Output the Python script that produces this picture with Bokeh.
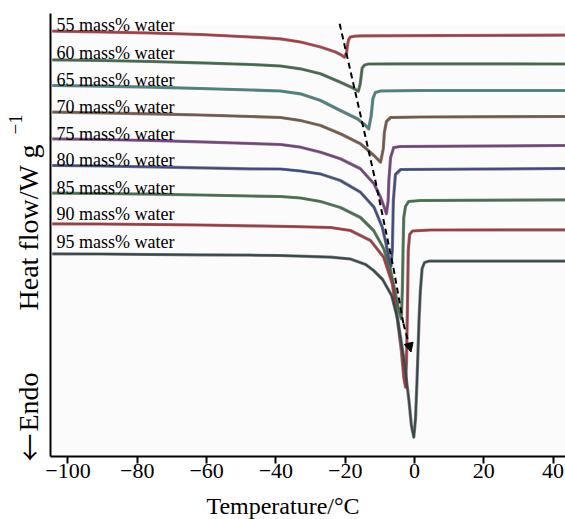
from bokeh.plotting import figure
from bokeh.models import Range1d, FixedTicker, Label, Arrow, NormalHead, ColumnDataSource, BoxAnnotation
from bokeh.core.properties import value
from bokeh.embed import file_html
from bokeh.resources import INLINE

FONT = "Liberation Serif"

# ---- data (temperature in degC, heat flow in arbitrary offset units) ----
series_names = ["55 mass% water", "60 mass% water", "65 mass% water", "70 mass% water",
                "75 mass% water", "80 mass% water", "85 mass% water", "90 mass% water",
                "95 mass% water"]
series_colors = ["#b8343c", "#3b6b47", "#3f8784", "#7a5540", "#7a3d85",
                 "#3b4a85", "#3e7348", "#b0333a", "#34474a"]

t55 = [-104.5, -90.6, -76.2, -61.8, -47.3, -38.7, -32.9, -27.1, -22.8, -21.1, -20.2, -19.6, -19.3, -19.0, -18.5, -17.0, -15.6, 10.4, 43.6]
h55 = [425.3, 424.5, 423.5, 422.0, 419.5, 417.7, 414.5, 409.5, 404.5, 401.5, 399.3, 404.0, 412.0, 417.0, 419.5, 420.3, 420.7, 421.0, 421.3]

t60 = [-104.5, -90.6, -76.2, -61.8, -47.3, -38.7, -32.9, -27.1, -21.4, -17.9, -16.2, -15.7, -15.4, -15.1, -14.4, -13.3, -4.0, 43.6]
h60 = [396.7, 396.0, 395.0, 393.7, 392.0, 390.5, 387.7, 382.7, 374.3, 368.7, 365.3, 372.0, 380.0, 388.5, 391.5, 392.5, 392.7, 392.5]

t65 = [-104.5, -90.6, -76.2, -61.8, -47.3, -38.7, -32.9, -27.1, -21.4, -16.5, -14.1, -13.2, -12.5, -12.0, -11.3, -9.8, 1.7, 43.6]
h65 = [371.0, 370.3, 369.3, 368.0, 366.5, 365.5, 362.7, 356.0, 346.0, 337.7, 331.0, 327.7, 341.0, 358.0, 364.0, 365.5, 366.0, 366.0]

t70 = [-104.5, -90.6, -76.2, -61.8, -47.3, -38.7, -32.9, -27.1, -21.4, -15.6, -11.7, -9.8, -9.0, -8.7, -8.1, -6.9, 1.7, 43.6]
h70 = [344.3, 343.7, 342.7, 341.5, 340.0, 339.0, 336.0, 331.0, 322.7, 312.7, 301.0, 294.3, 308.0, 324.0, 335.0, 339.0, 339.5, 340.0]

t75 = [-104.5, -90.6, -76.2, -61.8, -47.3, -38.7, -32.9, -27.1, -21.4, -15.6, -11.7, -9.8, -8.7, -8.1, -7.6, -7.4, -6.9, -6.0, -4.0, 43.6]
h75 = [317.7, 317.0, 316.0, 314.7, 313.0, 312.0, 309.3, 304.3, 297.7, 287.7, 272.7, 259.3, 249.0, 242.7, 256.0, 276.0, 299.0, 309.0, 310.0, 311.0]

t80 = [-104.5, -90.6, -76.2, -61.8, -47.3, -38.7, -32.9, -27.1, -21.4, -15.6, -11.7, -9.3, -8.1, -7.2, -6.8, -6.4, -6.1, -5.5, -4.0, 43.6]
h80 = [291.0, 290.5, 289.7, 288.7, 287.7, 287.5, 285.5, 282.5, 276.0, 264.3, 249.3, 229.3, 211.0, 194.0, 190.0, 206.0, 256.0, 282.0, 287.0, 288.0]

t85 = [-104.5, -90.6, -76.2, -61.8, -47.3, -38.7, -32.9, -27.1, -21.4, -15.6, -11.8, -8.9, -6.9, -5.5, -4.5, -3.8, -3.5, -3.3, -3.1, -2.6, -1.7, 1.7, 43.6]
h85 = [263.3, 263.0, 262.3, 261.5, 260.5, 260.0, 258.5, 255.0, 249.0, 239.0, 226.0, 208.0, 186.0, 163.0, 145.7, 137.7, 166.0, 206.0, 239.0, 250.0, 255.0, 256.0, 256.7]

t90 = [-104.5, -90.6, -76.2, -61.8, -47.3, -35.8, -24.2, -18.5, -12.7, -8.9, -6.4, -5.0, -3.8, -3.1, -2.6, -2.3, -2.0, -1.8, -1.4, -0.6, 4.6, 43.6]
h90 = [232.7, 232.5, 232.0, 231.5, 230.7, 230.0, 229.0, 226.0, 216.0, 199.3, 172.7, 139.3, 106.0, 79.3, 69.3, 96.0, 156.0, 206.0, 222.0, 225.5, 226.5, 226.7]

t95 = [-104.5, -90.6, -76.2, -61.8, -47.3, -38.7, -24.2, -18.5, -14.1, -11.8, -9.2, -6.6, -4.9, -3.1, -1.6, -0.9, -0.2, 0.3, 0.8, 1.3, 1.7, 2.2, 2.9, 4.1, 43.6]
h95 = [202.7, 202.5, 202.0, 201.7, 201.3, 201.0, 199.3, 197.5, 192.0, 186.0, 177.0, 161.0, 138.0, 99.0, 56.0, 31.0, 19.3, 38.0, 83.0, 136.0, 166.0, 188.0, 194.0, 195.3, 195.3]

series_t = [t55, t60, t65, t70, t75, t80, t85, t90, t95]
series_h = [h55, h60, h65, h70, h75, h80, h85, h90, h95]

# label anchors (left edge, baseline)
label_t = [-103.3] * 9
label_h = [431.7, 404.0, 376.3, 349.7, 323.0, 296.3, 269.0, 242.3, 214.7]

# dashed trend line through the peak minima
trend_t = [-21.6, -17.0, -11.3, -6.1, -3.2]
trend_h = [432.7, 363.0, 276.0, 189.0, 133.0]
arrow_tip_t = -1.0
arrow_tip_h = 104.5

tick_values = [-100, -80, -60, -40, -20, 0, 20, 40]
tick_labels = ["\u2212100", "\u221280", "\u221260", "\u221240", "\u221220", "0", "20", "40"]

X_MIN, X_MAX = -105.05, 43.6
Y_MIN, Y_MAX = 0, 443

# ---- figure (frame covers the whole canvas; axis placed at y = 0) ----
p = figure(width=565, height=519, output_backend="svg", toolbar_location=None,
           x_range=Range1d(-119.48, 43.58), y_range=Range1d(-63, 456),
           min_border_left=0, min_border_right=0, min_border_top=0, min_border_bottom=0)
p.outline_line_color = None
p.background_fill_color = "white"
p.border_fill_color = "white"
p.xgrid.visible = False
p.ygrid.visible = False
p.yaxis.visible = False

p.add_layout(BoxAnnotation(left=X_MIN, right=X_MAX, bottom=Y_MIN, top=431, fill_color="#fbfbfb",
                           fill_alpha=1, line_color=None, level="underlay"))

for t, h, c in zip(series_t, series_h, series_colors):
    p.line(t, h, line_color="#4d4d4d", line_width=3.2, line_alpha=0.7, line_join="round")
    p.line(t, h, line_color=c, line_width=1.8, line_join="round")

p.line(trend_t, trend_h, line_color="black", line_width=2, line_dash="6 4")
p.add_layout(Arrow(end=NormalHead(size=9, fill_color="black", line_color="black"),
                   x_start=trend_t[-1], y_start=trend_h[-1], x_end=arrow_tip_t, y_end=arrow_tip_h,
                   line_color="black", line_width=2, line_dash="6 4"))

src = ColumnDataSource(dict(x=label_t, y=label_h, text=series_names))
p.text(x="x", y="y", text="text", source=src, text_font=value(FONT), text_font_size="18px",
       text_color="black", text_align="left", text_baseline="alphabetic")

# axis lines
p.line([X_MIN, X_MAX], [Y_MIN, Y_MIN], line_color="black", line_width=2)
p.line([X_MIN, X_MIN], [Y_MIN, Y_MAX], line_color="black", line_width=2)

# x axis, fixed at heat flow = 0
xa = p.xaxis[0]
xa.fixed_location = Y_MIN
xa.ticker = FixedTicker(ticks=tick_values)
xa.major_label_overrides = {v: s for v, s in zip(tick_values, tick_labels)}
xa.major_label_text_font = FONT
xa.major_label_text_font_size = "22px"
xa.major_label_text_color = "black"
xa.major_label_standoff = 0
xa.axis_label = "Temperature/\u00b0C"
xa.axis_label_text_font = FONT
xa.axis_label_text_font_size = "24px"
xa.axis_label_text_font_style = "normal"
xa.axis_label_text_color = "black"
xa.axis_label_standoff = 12
xa.axis_line_color = None
xa.major_tick_line_width = 2
xa.major_tick_line_color = "black"
xa.major_tick_out = 7
xa.major_tick_in = 0
xa.minor_tick_line_color = None

# y axis title (rotated labels)
p.add_layout(Label(x=-111.4, y=146, text="Heat flow/W g", angle=1.5708, text_font=FONT,
                   text_font_size="28px", text_align="left", text_baseline="alphabetic",
                   text_color="black"))
p.add_layout(Label(x=-115.1, y=322, text="\u22121", angle=1.5708, text_font=FONT,
                   text_font_size="19px", text_align="left", text_baseline="alphabetic",
                   text_color="black"))
p.add_layout(Label(x=-111.2, y=-5, text="\u2190", angle=1.5708, text_font="Noto Sans CJK SC",
                   text_font_size="28px", text_align="left", text_baseline="alphabetic",
                   text_color="black"))
p.add_layout(Label(x=-111.4, y=25, text="Endo", angle=1.5708, text_font=FONT,
                   text_font_size="28px", text_align="left", text_baseline="alphabetic",
                   text_color="black"))

open("out.html", "w").write(file_html(p, INLINE))
